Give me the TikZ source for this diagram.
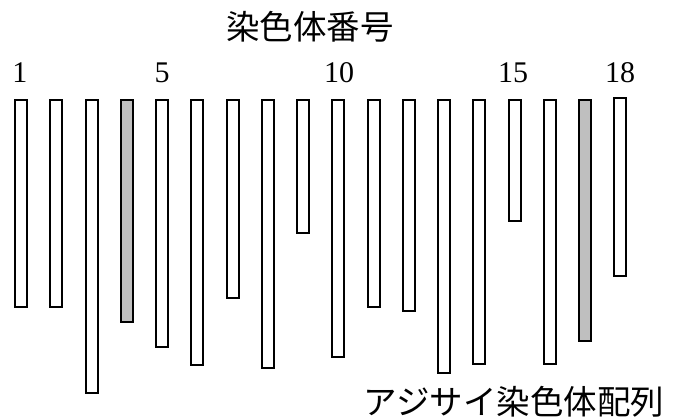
\documentclass[tikz,border=0pt]{standalone}
\usepackage{fontspec}
\setmainfont{Liberation Serif}
\newfontfamily\cjk{Noto Sans CJK JP}
\begin{document}
\begin{tikzpicture}[x=1pt,y=-1pt,
  chrom/.style={draw=black,line width=2pt,fill=white},
  chromgray/.style={chrom,fill=black!25},
  numlabel/.style={anchor=base,inner sep=0pt,font=\fontsize{30}{30}\selectfont},
  cjklabel/.style={inner sep=0pt,font=\cjk\fontsize{33.5}{33.5}\selectfont}]
\useasboundingbox (0,0) rectangle (675,420);
% bars: index/bottom
\foreach \i/\b in {1/308,2/308,3/394,5/348,6/366,7/299,8/369,9/234,10/358,11/308,12/312,13/374,14/365,15/222,16/365}{
  \pgfmathsetmacro{\cx}{21+35.25*(\i-1)}
  \draw[chrom] (\cx-6,100) rectangle (\cx+6,\b-1);
}
\foreach \i/\b in {4/323,17/342}{
  \pgfmathsetmacro{\cx}{21+35.25*(\i-1)}
  \draw[chromgray] (\cx-6,100) rectangle (\cx+6,\b-1);
}
\pgfmathsetmacro{\cx}{21+35.25*17}
\draw[chrom] (\cx-6,98) rectangle (\cx+6,276);
% number labels
\node[numlabel] (n1) at (20,83) {1};
\node[numlabel] (n5) at (162,83) {5};
\node[numlabel] (n10) at (339,83) {10};
\node[numlabel] (n15) at (513,83) {15};
\node[numlabel] (n18) at (620,83) {18};
% titles
\node[cjklabel] (title) at (310,27) {染色体番号};
\node[cjklabel] (sub) at (514,402) {アジサイ染色体配列};
\end{tikzpicture}
\end{document}
